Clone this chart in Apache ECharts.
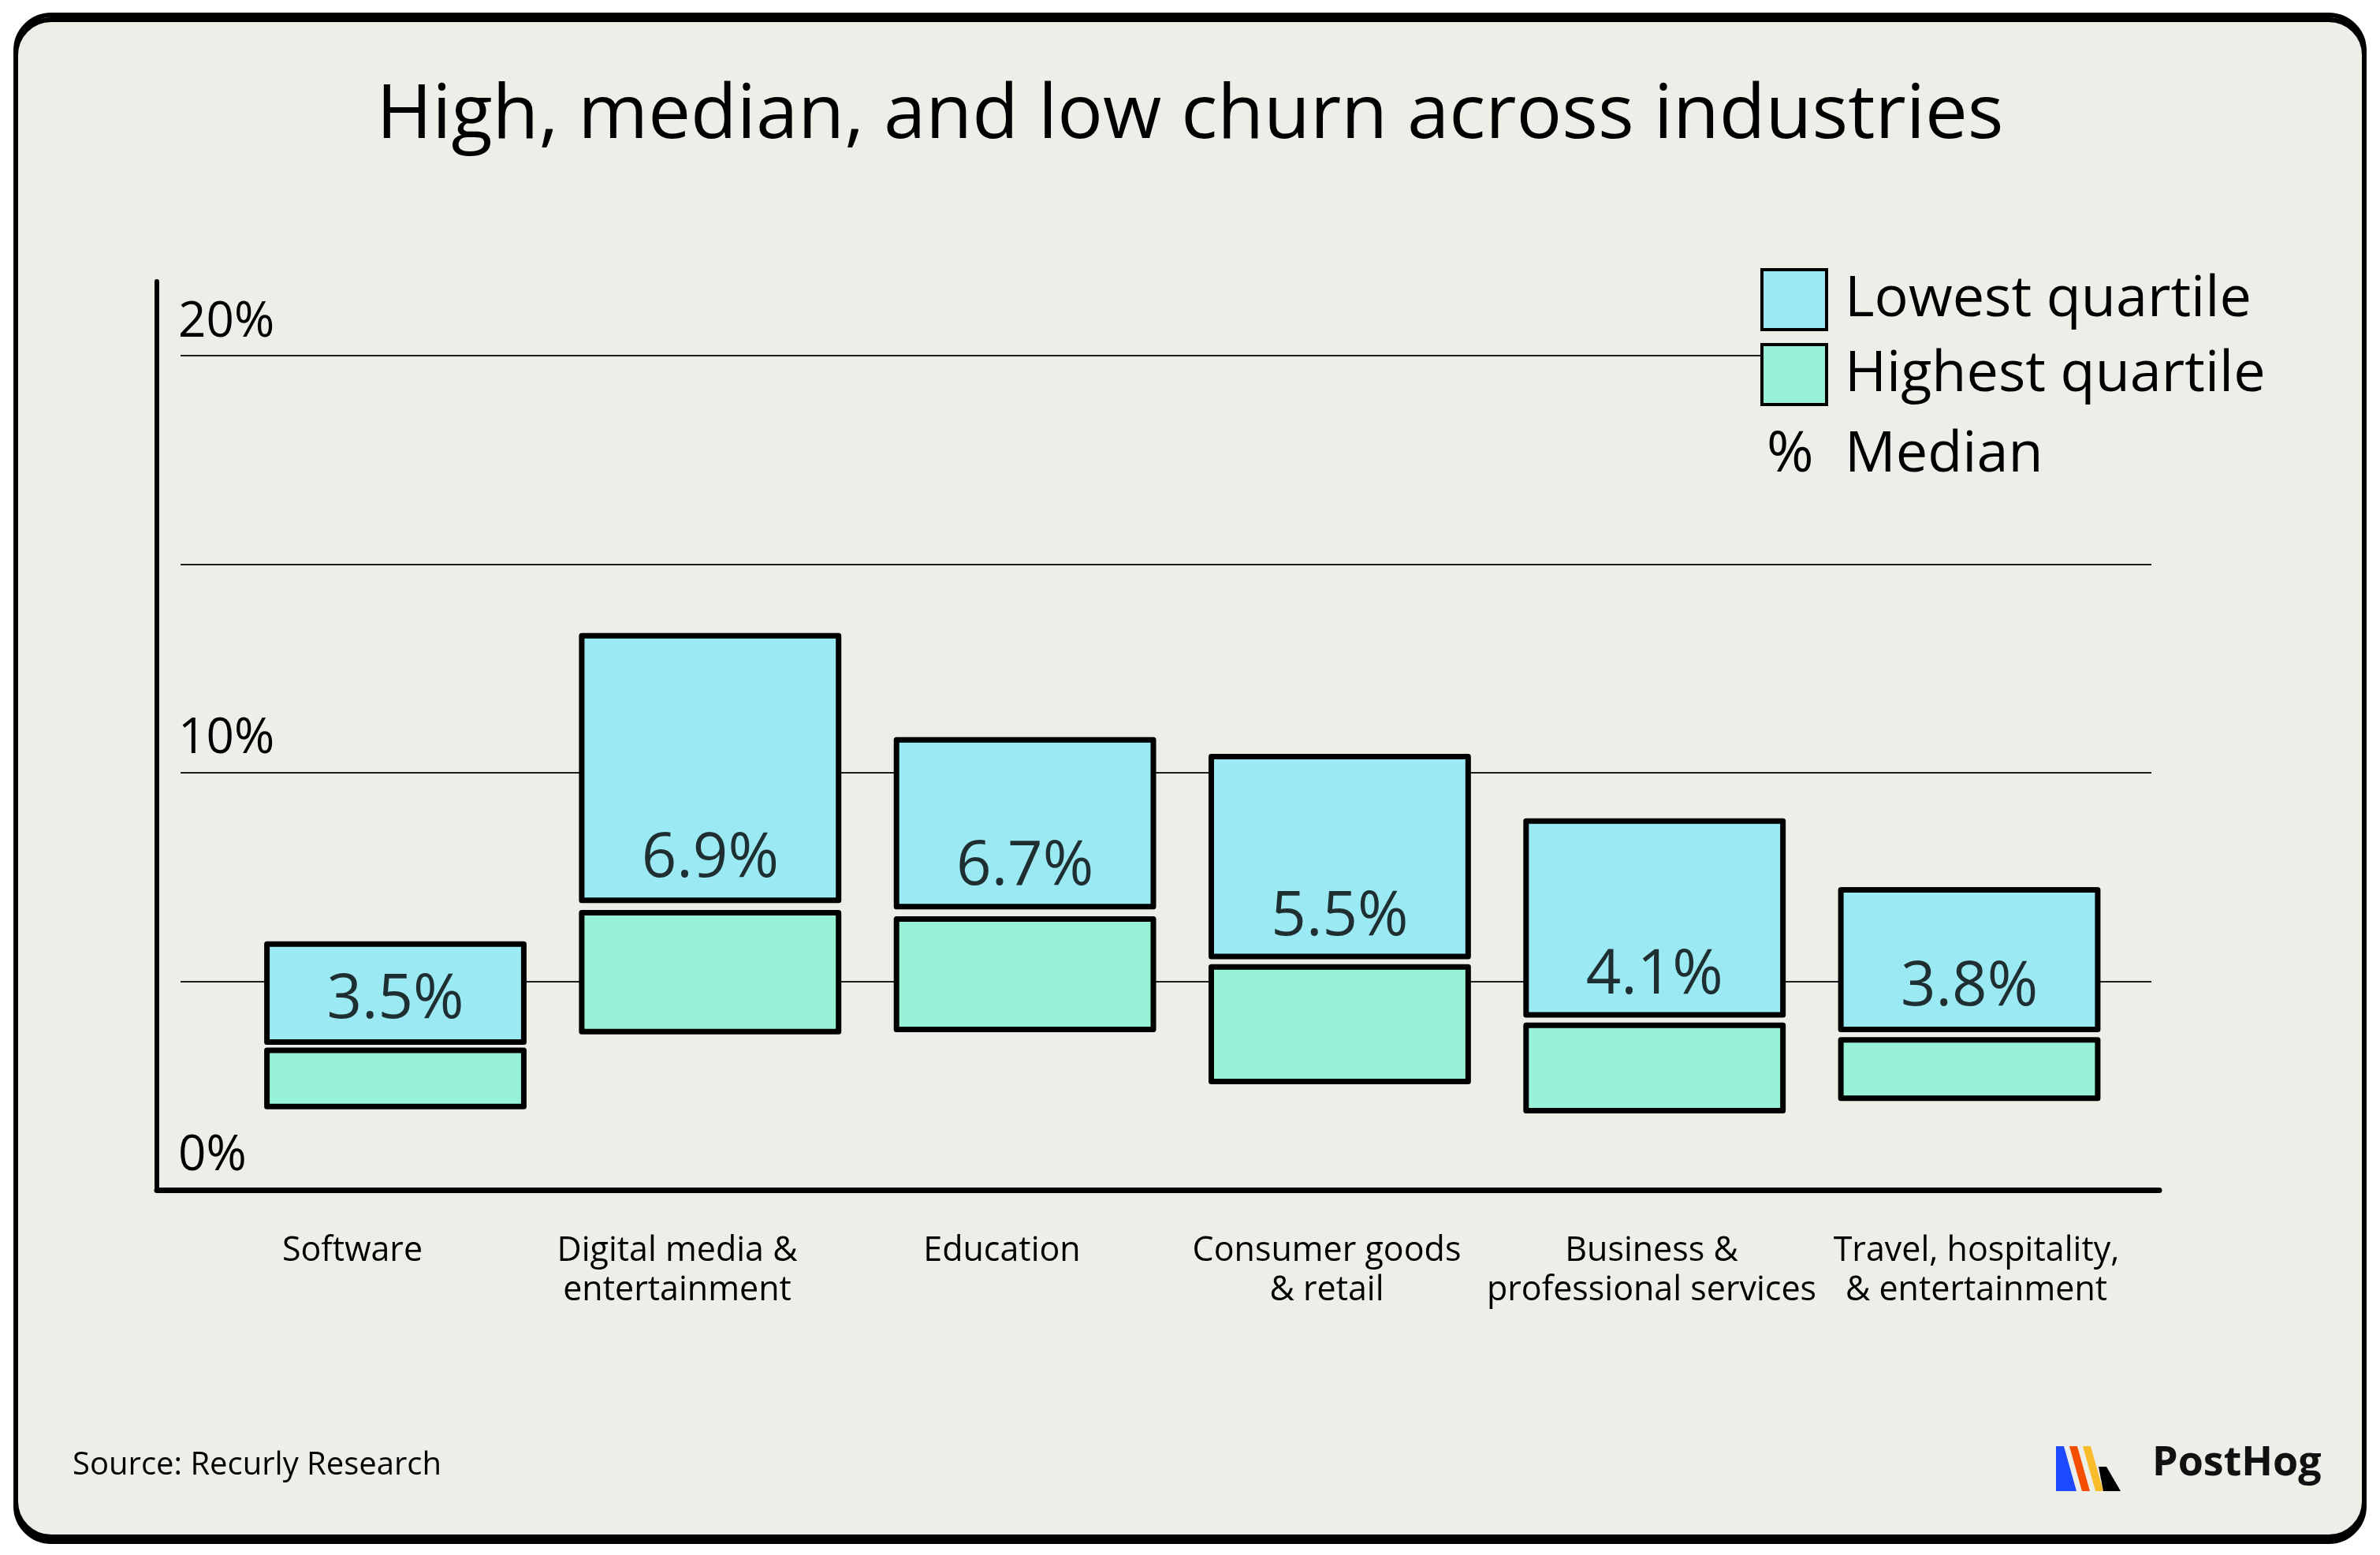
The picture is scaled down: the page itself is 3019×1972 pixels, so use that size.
<!DOCTYPE html>
<html><head><meta charset="utf-8">
<script src="https://cdn.jsdelivr.net/npm/echarts@6/dist/echarts.min.js"></script>
<style>html,body{margin:0;padding:0;background:#fff}#c{width:3019px;height:1972px}</style>
</head><body><div id="c"></div>
<script>
// ---- data ----
const categories = ['Software', 'Digital media &\nentertainment', 'Education', 'Consumer goods\n& retail', 'Business &\nprofessional services', 'Travel, hospitality,\n& entertainment'];
const medianChurn = [3.5, 6.9, 6.7, 5.5, 4.1, 3.8];
const lowestQuartileFrom = [3.55, 6.95, 6.8, 5.6, 4.2, 3.85];
const lowestQuartileTo = [5.9, 13.3, 10.8, 10.4, 8.85, 7.2];
const highestQuartileFrom = [2.0, 3.8, 3.85, 2.6, 1.9, 2.2];
const highestQuartileTo = [3.35, 6.65, 6.5, 5.35, 3.95, 3.6];
const yLabelValues = [0, 10, 20];

// ---- style ----
const FONT = '"Open Sans", sans-serif';
const BLUE = '#9be9f3';
const GREEN = '#97f2d8';
const CARD = '#eeeee9';
const BAR_W = 0.816;

function floatingBar(fill) {
  return function (params, api) {
    const x = api.value(0);
    const lo = api.coord([x, api.value(1)]);
    const hi = api.coord([x, api.value(2)]);
    const w = api.size([BAR_W, 0])[0];
    return {
      type: 'rect',
      shape: { x: lo[0] - w / 2, y: hi[1], width: w, height: lo[1] - hi[1] },
      style: { fill: fill, stroke: '#000', lineWidth: 7, lineJoin: 'round' }
    };
  };
}

const chart = echarts.init(document.getElementById('c'), null, { renderer: 'canvas' });
chart.setOption({
  backgroundColor: '#ffffff',
  animation: false,
  title: {
    text: 'High, median, and low churn across industries',
    left: 'center', top: 90,
    textStyle: { fontFamily: FONT, fontSize: 96, fontWeight: 'normal', color: '#000', lineHeight: 106 }
  },
  legend: [{
    left: 2233, top: 340, orient: 'vertical', itemWidth: 82, itemHeight: 76, itemGap: 15,
    padding: 0, backgroundColor: CARD, selectedMode: false,
    data: [
      { name: 'Lowest quartile', icon: 'rect', itemStyle: { color: BLUE, borderColor: '#000', borderWidth: 4 } },
      { name: 'Highest quartile', icon: 'rect', itemStyle: { color: GREEN, borderColor: '#000', borderWidth: 4 } }
    ],
    textStyle: { fontFamily: FONT, fontSize: 72, color: '#000', padding: [0, 0, 0, 18] }
  }, {
    left: 2236, top: 537, orient: 'vertical', itemWidth: 0, itemHeight: 60, padding: 0, selectedMode: false,
    data: [{ name: 'Median', icon: 'none' }],
    formatter: function (name) { return '{p|%}{m|' + name + '}'; },
    textStyle: {
      fontFamily: FONT, fontSize: 72, color: '#000', lineHeight: 80,
      rich: { p: { width: 99, fontSize: 72, fontFamily: FONT, color: '#000' }, m: { fontSize: 72, fontFamily: FONT, color: '#000' } }
    }
  }],
  grid: [
    { left: 199, right: 280, top: 357, bottom: 463, outerBoundsMode: 'none' },
    { left: 229, right: 290, top: 451, bottom: 463, outerBoundsMode: 'none' },
    { left: 241, right: 306, top: 1550, height: 2, outerBoundsMode: 'none' }
  ],
  xAxis: [
    { gridIndex: 0, type: 'value', min: -0.7576, max: 5.6035,
      axisLine: { show: true, onZero: false, lineStyle: { color: '#000', width: 7, cap: 'round' } },
      axisTick: { show: false }, axisLabel: { show: false }, splitLine: { show: false } },
    { gridIndex: 1, type: 'value', show: false },
    { gridIndex: 2, type: 'category', data: categories,
      axisLine: { show: false }, axisTick: { show: false }, splitLine: { show: false },
      axisLabel: { interval: 0, margin: 10, fontFamily: FONT, fontSize: 43, lineHeight: 50, color: '#000' } }
  ],
  yAxis: [
    { gridIndex: 0, type: 'value', min: 0, max: 21.8, interval: 10,
      axisLine: { show: true, onZero: false, lineStyle: { color: '#000', width: 6, cap: 'round' } },
      axisTick: { show: false }, splitLine: { show: false },
      axisLabel: {
        inside: true, margin: 27, showMinLabel: true, showMaxLabel: false,
        fontFamily: FONT, fontSize: 62, color: '#000', verticalAlign: 'bottom', lineHeight: 62, padding: [0, 0, 12, 0],
        formatter: function (v) { return yLabelValues.indexOf(v) >= 0 ? v + '%' : ''; }
      } },
    { gridIndex: 1, type: 'value', min: 0, max: 20, interval: 5,
      axisLine: { show: false }, axisTick: { show: false }, axisLabel: { show: false },
      splitLine: { show: true, lineStyle: { color: '#1e1e1e', width: 2 } } },
    { gridIndex: 2, type: 'value', show: false }
  ],
  series: [
    { name: 'Lowest quartile', type: 'custom', xAxisIndex: 0, yAxisIndex: 0, z: 2,
      itemStyle: { color: BLUE },
      encode: { x: 0, y: [1, 2] },
      renderItem: floatingBar(BLUE),
      data: categories.map((c, i) => [i, lowestQuartileFrom[i], lowestQuartileTo[i]]) },
    { name: 'Highest quartile', type: 'custom', xAxisIndex: 0, yAxisIndex: 0, z: 2,
      itemStyle: { color: GREEN },
      encode: { x: 0, y: [1, 2] },
      renderItem: floatingBar(GREEN),
      data: categories.map((c, i) => [i, highestQuartileFrom[i], highestQuartileTo[i]]) },
    { name: 'Median', type: 'scatter', xAxisIndex: 0, yAxisIndex: 0, z: 5,
      symbolSize: 1, itemStyle: { color: 'rgba(0,0,0,0)' },
      label: { show: true, position: 'inside', offset: [0, -55], fontFamily: FONT, fontSize: 78, fontWeight: 500, color: '#000',
        formatter: function (p) { return p.value[1].toFixed(1) + '%'; } },
      data: categories.map((c, i) => [i, medianChurn[i]]) }
  ],
  graphic: [
    { type: 'rect', z: -10, shape: { x: 20, y: 19, width: 2979, height: 1930, r: 45 },
      style: { fill: CARD, stroke: '#000', lineWidth: 6, shadowColor: '#000', shadowOffsetY: 6, shadowBlur: 0 } },
    { type: 'text', z: 10, left: 92, top: 1839,
      style: { text: 'Source: Recurly Research', font: '40px ' + FONT, fill: '#000' } },
    { type: 'text', z: 10, left: 2730, top: 1830,
      style: { text: 'PostHog', font: 'bold 52px ' + FONT, fill: '#111' } },
    { type: 'group', z: 10, children: [
      { type: 'polygon', shape: { points: [[2608, 1834], [2618, 1834], [2634, 1891], [2608, 1891]] }, style: { fill: '#1d4aff' } },
      { type: 'polygon', shape: { points: [[2625, 1834], [2635, 1834], [2651, 1891], [2641, 1891]] }, style: { fill: '#f54e00' } },
      { type: 'polygon', shape: { points: [[2642, 1834], [2652, 1834], [2668, 1891], [2658, 1891]] }, style: { fill: '#f9bd2b' } },
      { type: 'polygon', shape: { points: [[2662, 1860], [2672, 1860], [2690, 1891], [2668, 1891]] }, style: { fill: '#000' } }
    ] }
  ]
});
</script>
</body></html>
